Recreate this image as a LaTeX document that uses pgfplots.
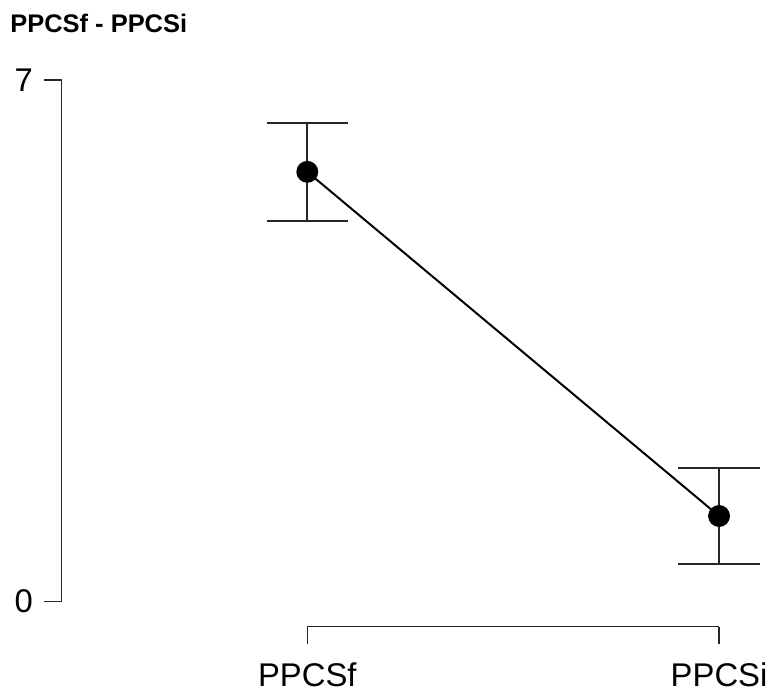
\documentclass[border=0pt]{standalone}
\usepackage{fontspec}
\setmainfont{Liberation Sans}
\usepackage{pgfplots}
\pgfplotsset{compat=1.18}

\begin{document}
\begin{tikzpicture}
\begin{axis}[
  scale only axis,
  width=356pt, height=315pt,
  xmin=-0.5966, xmax=1.1232,
  ymin=-0.334, ymax=8.077,
  clip=false,
  axis x line=bottom, axis y line=left,
  axis line style={draw=none, -},
  xtick={0,1}, xticklabels={PPCSf,PPCSi},
  ytick={0,7},
  tick align=outside,
  major tick length=9pt,
  tick style={line width=0.8pt, black!85},
  /pgf/number format/assume math mode=true,
  ticklabel style={font=\fontsize{16.5}{19}\selectfont},
  yticklabel style={xshift=-2pt},
  xticklabel style={yshift=-5.5pt},
]
% bounding frame of the figure
\path (axis cs:-0.7464,-1.1215) rectangle (axis cs:1.1232,8.077);
% range-limited axis lines
\draw[line width=0.8pt, black!85] (axis cs:-0.5966,0) -- (axis cs:-0.5966,7);
\draw[line width=0.8pt, black!85] (axis cs:0,-0.334) -- (axis cs:1,-0.334);
% means with error bars
\addplot[
  black, line width=1pt,
  mark=*, mark size=5pt,
  error bars/.cd, y dir=both, y explicit,
  error bar style={line width=1pt, black!85},
  error mark options={rotate=90, mark size=20.5pt, line width=1pt, black!85},
] table[x=x, y=y, y error=e] {
x y e
0 5.77 0.655
1 1.15 0.645
};
\node[anchor=base west, font=\bfseries\fontsize{12.8}{15}\selectfont, inner sep=0pt]
  at (axis cs:-0.7222,7.637) {PPCSf - PPCSi};
\end{axis}
\end{tikzpicture}
\end{document}
